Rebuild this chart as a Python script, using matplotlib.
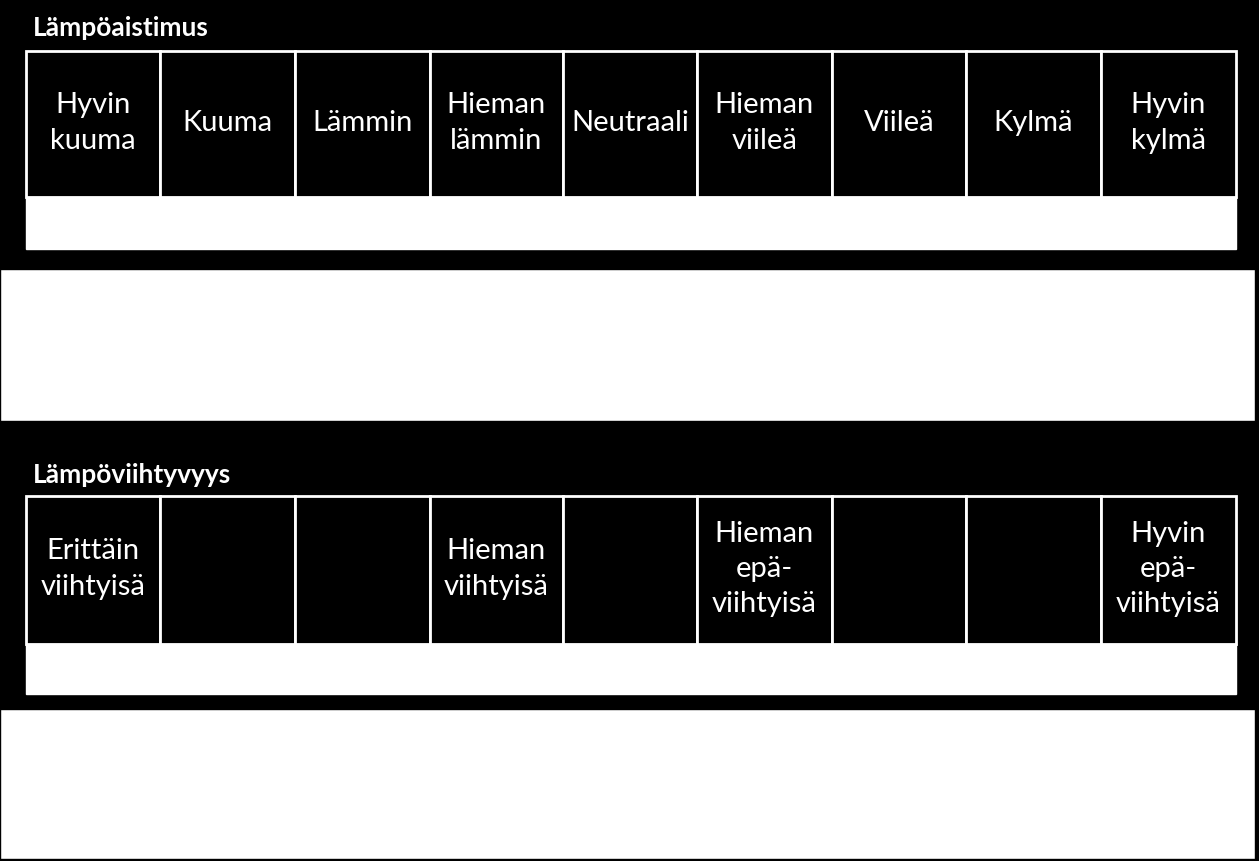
import matplotlib
matplotlib.use("Agg")
import matplotlib.pyplot as plt
from matplotlib.patches import Rectangle

title1 = "Lämpöaistimus"
labels1 = ["Hyvin\nkuuma", "Kuuma", "Lämmin", "Hieman\nlämmin", "Neutraali",
           "Hieman\nviileä", "Viileä", "Kylmä", "Hyvin\nkylmä"]
title2 = "Lämpöviihtyvyys"
labels2 = ["Erittäin\nviihtyisä", "", "", "Hieman\nviihtyisä", "",
           "Hieman\nepä-\nviihtyisä", "", "", "Hyvin\nepä-\nviihtyisä"]

W, H = 1259, 862
fig = plt.figure(figsize=(W / 100, H / 100), dpi=100, facecolor="black")
ax = fig.add_axes([0, 0, 1, 1])
ax.set_xlim(0, W)
ax.set_ylim(H, 0)
ax.axis("off")
ax.set_facecolor("black")
font = "Lato"

edges = [26, 160, 295, 430, 563, 697, 832, 966, 1101, 1236]

def block(title, labels, ty, y0, y1, wy1, by0, by1):
    ax.text(33, ty, title, color="white", fontsize=19, fontweight="bold",
            family=font, va="center", ha="left")
    for i, lab in enumerate(labels):
        x0, x1 = edges[i], edges[i + 1]
        ax.add_patch(Rectangle((x0, y0), x1 - x0, y1 - y0, facecolor="black",
                               edgecolor="white", linewidth=2))
        if lab:
            t = ax.text((x0 + x1) / 2, (y0 + y1) / 2 - 2, lab, color="white",
                        fontsize=21, family=font, ha="center", va="center",
                        linespacing=1.45, clip_on=True)
            t.set_clip_path(Rectangle((x0, y0), x1 - x0, y1 - y0,
                                      transform=ax.transData))
    ax.add_patch(Rectangle((26, y1), 1210, wy1 - y1, facecolor="white",
                           edgecolor="white"))
    ax.add_patch(Rectangle((0, by0), 1255, by1 - by0, facecolor="white",
                           edgecolor="black", linewidth=1))

block(title1, labels1, 28, 52, 198, 250, 270, 422)
block(title2, labels2, 475, 497, 645, 695, 710, 860)

fig.savefig("out.png", dpi=100, facecolor="black")
